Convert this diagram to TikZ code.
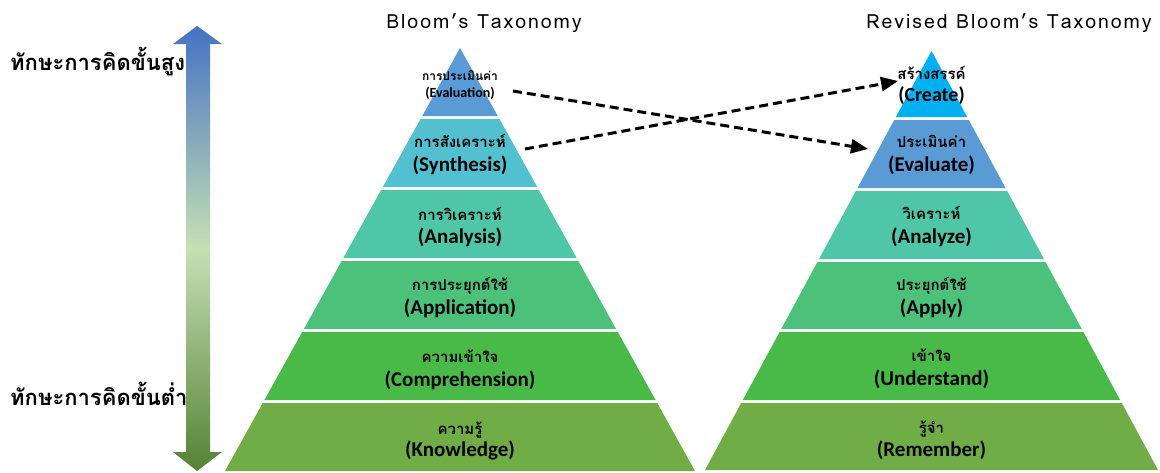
\documentclass[tikz,border=0pt]{standalone}
\usepackage{fontspec}
\usetikzlibrary{arrows.meta}
\newfontfamily\thaifont[Script=Thai]{Loma}
\newfontfamily\titlefont[Script=Thai,LetterSpace=10]{Loma}
\newfontfamily\engfont{Carlito}
\definecolor{cTopA}{HTML}{5B9BD5}
\definecolor{cSyn}{HTML}{52C0CF}
\definecolor{cAna}{HTML}{50C6A8}
\definecolor{cApp}{HTML}{4CC17A}
\definecolor{cCom}{HTML}{49B947}
\definecolor{cKno}{HTML}{70AD47}
\definecolor{cCre}{HTML}{00B0F0}
\definecolor{arTop}{HTML}{4472C4}
\definecolor{arMid}{HTML}{C5E0B4}
\definecolor{arBot}{HTML}{548235}
\newcommand\pyrlayer[6]{\fill[#6] ({#1-(#4-#2)*#3},#4) -- ({#1+(#4-#2)*#3},#4) -- ({#1+(#5-#2)*#3},#5) -- ({#1-(#5-#2)*#3},#5) -- cycle;}
\tikzset{
  thl/.style={anchor=base,inner sep=0pt,font=\thaifont\bfseries\fontsize{15}{18}\selectfont},
  enl/.style={anchor=base,inner sep=0pt,font=\engfont\bfseries\fontsize{21}{25}\selectfont},
  ttl/.style={anchor=base,inner sep=0pt,font=\titlefont\fontsize{19.5}{23}\selectfont},
  sidel/.style={anchor=base west,inner sep=0pt,font=\thaifont\bfseries\fontsize{22}{26}\selectfont},
  dasharrow/.style={line width=3pt,dash pattern=on 9pt off 5pt,-{Triangle[length=17pt,width=14pt]}}
}
\begin{document}
\begin{tikzpicture}[x=1pt,y=-1pt]
\useasboundingbox (0,0) rectangle (1160,472);
% left pyramid
\pyrlayer{460}{48}{0.5556}{48}{116}{cTopA}
\pyrlayer{460}{48}{0.5556}{119}{187}{cSyn}
\pyrlayer{460}{48}{0.5556}{190}{258}{cAna}
\pyrlayer{460}{48}{0.5556}{261}{329}{cApp}
\pyrlayer{460}{48}{0.5556}{332}{400}{cCom}
\pyrlayer{460}{48}{0.5556}{403}{471}{cKno}
% right pyramid
\pyrlayer{931.5}{51}{0.5406}{51}{117}{cCre}
\pyrlayer{931.5}{51}{0.5406}{120}{188}{cTopA}
\pyrlayer{931.5}{51}{0.5406}{191}{259}{cAna}
\pyrlayer{931.5}{51}{0.5406}{262}{329}{cApp}
\pyrlayer{931.5}{51}{0.5406}{332}{400}{cCom}
\pyrlayer{931.5}{51}{0.5406}{403}{470}{cKno}
% double arrow
\shade[top color=arTop,bottom color=arBot,middle color=arMid]
  (197,26) -- (222,44) -- (210,44) -- (210,452) -- (222,452) -- (197,471) -- (173,452) -- (186,452) -- (186,44) -- (173,44) -- cycle;
% titles
\node[ttl] (t1) at (484,28) {Bloom’s Taxonomy};
\node[ttl] (t2) at (1009,28) {Revised Bloom’s Taxonomy};
% side labels
\node[sidel] (hi) at (10,70) {ทักษะการคิดขั้นสูง};
\node[sidel] (lo) at (10,405) {ทักษะการคิดขั้นต่ำ};
% left labels
\node[thl,font=\thaifont\bfseries\fontsize{12}{14}\selectfont] (l1t) at (460,80) {การประเมินค่า};
\node[enl,font=\engfont\bfseries\fontsize{14}{17}\selectfont] (l1e) at (460,97) {(Evaluation)};
\node[thl] (l2t) at (460,147) {การสังเคราะห์};
\node[enl] (l2e) at (460,171) {(Synthesis)};
\node[thl] (l3t) at (460,220) {การวิเคราะห์};
\node[enl] (l3e) at (460,243) {(Analysis)};
\node[thl] (l4t) at (460,290) {การประยุกต์ใช้};
\node[enl] (l4e) at (460,314) {(Application)};
\node[thl] (l5t) at (460,362) {ความเข้าใจ};
\node[enl] (l5e) at (460,386) {(Comprehension)};
\node[thl] (l6t) at (460,434) {ความรู้};
\node[enl] (l6e) at (460,456) {(Knowledge)};
% right labels
\node[thl] (r1t) at (931.5,79) {สร้างสรรค์};
\node[enl,font=\engfont\bfseries\fontsize{20}{24}\selectfont] (r1e) at (931.5,101) {(Create)};
\node[thl] (r2t) at (931.5,147) {ประเมินค่า};
\node[enl] (r2e) at (931.5,171) {(Evaluate)};
\node[thl] (r3t) at (931.5,219) {วิเคราะห์};
\node[enl] (r3e) at (931.5,243) {(Analyze)};
\node[thl] (r4t) at (931.5,290) {ประยุกต์ใช้};
\node[enl] (r4e) at (931.5,314) {(Apply)};
\node[thl] (r5t) at (931.5,361) {เข้าใจ};
\node[enl] (r5e) at (931.5,385) {(Understand)};
\node[thl] (r6t) at (931.5,433) {รู้จำ};
\node[enl] (r6e) at (931.5,456) {(Remember)};
% dashed connectors
\coordinate (evout) at (513,91);
\coordinate (evin) at (868,149);
\coordinate (synout) at (525,149);
\coordinate (crein) at (898,81);
\draw[dasharrow] (evout) -- (evin);
\draw[dasharrow] (synout) -- (crein);
\end{tikzpicture}
\end{document}
